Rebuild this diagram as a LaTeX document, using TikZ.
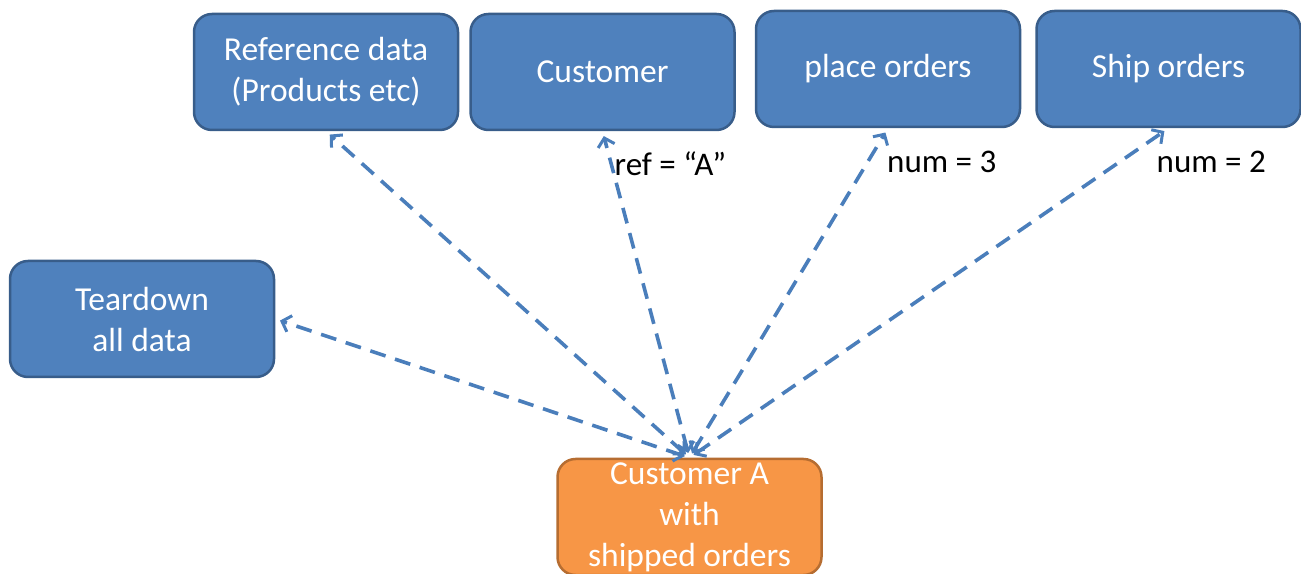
\documentclass[tikz,border=0pt]{standalone}
\usepackage{fontspec}
\setmainfont{Carlito}
\usepackage{tikz}
\usepackage{xcolor}
\usetikzlibrary{positioning,arrows.meta}
\definecolor{boxblue}{HTML}{4F81BD}
\definecolor{boxblueline}{HTML}{385D8A}
\definecolor{boxorange}{HTML}{F79646}
\definecolor{boxorangeline}{HTML}{B66D31}
\definecolor{linkblue}{HTML}{4A7EBB}

\begin{document}
\begin{tikzpicture}[x=1pt,y=1pt]%
  \tikzstyle{task}=[rectangle,rounded corners=18pt,draw=boxblueline,fill=boxblue,line width=2.5pt,
    minimum width=264pt,minimum height=116pt,align=center,text=white,font=\fontsize{33.5}{41}\selectfont]
  \tikzstyle{target}=[task,draw=boxorangeline,fill=boxorange]
  \tikzstyle{link}=[<->,>={Straight Barb[length=8pt,width=17pt,line width=3pt]},draw=linkblue,
    line width=3.6pt,dash pattern=on 16pt off 10pt,shorten <=5pt,shorten >=5pt]
  \tikzstyle{val}=[font=\fontsize{33}{40}\selectfont,inner sep=0pt,anchor=north west]
  \useasboundingbox (0,0) rectangle (1301,573);
  \node(ref)[task] at (326,501) {Reference data\\(Products etc)};
  \node(cust)[task,right=10pt of ref] {Customer};
  \node(place)[task] at (888,504) {place orders};
  \node(ship)[task,right=14pt of place] {Ship orders};
  \node(tear)[task] at (142,254) {Teardown\\all data};
  \node(custA)[target] at (689.5,56) {Customer A\\with\\shipped orders};
  \draw[link] (custA.north) -- (ref.south);
  \draw[link] (custA.north) -- (cust.south);
  \draw[link] (custA.north) -- (place.south);
  \draw[link] (custA.north) -- (ship.south);
  \draw[link] (custA.north) -- (tear.east);
  \node[val] at ([xshift=12pt,yshift=-20pt]cust.south) {ref = “A”};
  \node[val] at ([xshift=-1pt,yshift=-23pt]place.south) {num = 3};
  \node[val] at ([xshift=-12pt,yshift=-23pt]ship.south) {num = 2};
\end{tikzpicture}
\end{document}
